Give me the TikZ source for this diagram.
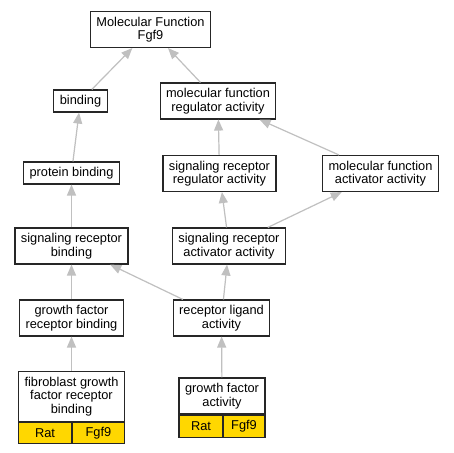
\documentclass[tikz,border=0pt]{standalone}
\usepackage{fontspec}
\setmainfont{Liberation Sans}
\usetikzlibrary{arrows.meta,positioning}
\definecolor{edgegray}{RGB}{192,192,192}
\definecolor{taxon}{RGB}{255,215,0}

\begin{document}
\begin{tikzpicture}[x=1pt, y=-1pt,
  box/.style={draw=black!85, line width=1.1pt, fill=white, align=center, inner xsep=6pt, inner ysep=2pt, minimum height=22pt, font=\fontsize{12.8}{13.4}\selectfont},
  two/.style={minimum height=36pt},
  cell/.style={draw=black!85, line width=1.1pt, fill=taxon, minimum height=21pt, inner sep=0pt, font=\fontsize{12.8}{13.4}\selectfont},
  arr/.style={-{Triangle[length=11pt, width=9pt]}, edgegray, line width=1.2pt},
]
\path[use as bounding box, fill=white] (0,0) rectangle (453,453);

% terms
\node[box, two] (mf) at (150.5, 29.5) {Molecular Function\\Fgf9};
\node[box] (binding) at (80.5, 101) {binding};
\node[box, two] (mfreg) at (218, 101) {molecular function\\regulator activity};
\node[box] (protbind) at (71.5, 173) {protein binding};
\node[box, two] (srreg) at (219.5, 173.5) {signaling receptor\\regulator activity};
\node[box, two] (mfact) at (380.5, 173.5) {molecular function\\activator activity};
\node[box, two] (srbind) at (71.5, 246) {signaling receptor\\binding};
\node[box, two] (sract) at (229, 246) {signaling receptor\\activator activity};
\node[box, two] (gfrb) at (71.5, 318) {growth factor\\receptor binding};
\node[box, two] (ligand) at (221.5, 318) {receptor ligand\\activity};

% annotated terms
\node[box, minimum width=105pt, minimum height=50pt] (fgfrb) at (71.5, 396.5) {fibroblast growth\\factor receptor\\binding};
\node[cell, minimum width=53pt, anchor=north west] (fgfrbrat) at (fgfrb.south west) {Rat};
\node[cell, minimum width=52pt, anchor=north east] (fgfrbgene) at (fgfrb.south east) {Fgf9};

\node[box, two, minimum width=86pt] (gfact) at (222, 396) {growth factor\\activity};
\node[cell, minimum width=44pt, minimum height=22pt, anchor=north west] (gfactrat) at (gfact.south west) {Rat};
\node[cell, minimum width=42pt, minimum height=22pt, anchor=north east] (gfactgene) at (gfact.south east) {Fgf9};

% is_a edges
\draw[arr] (binding) -- (mf);
\draw[arr] (mfreg) -- (mf);
\draw[arr] (protbind) -- (binding);
\draw[arr] (srreg) -- (mfreg);
\draw[arr] (mfact) -- (mfreg);
\draw[arr] (srbind) -- (protbind);
\draw[arr] (sract) -- (srreg);
\draw[arr] (sract) -- (mfact);
\draw[arr] (gfrb) -- (srbind);
\draw[arr] (ligand) -- (srbind);
\draw[arr] (ligand) -- (sract);
\draw[arr] (fgfrb) -- (gfrb);
\draw[arr] (gfact) -- (ligand);
\end{tikzpicture}
\end{document}
